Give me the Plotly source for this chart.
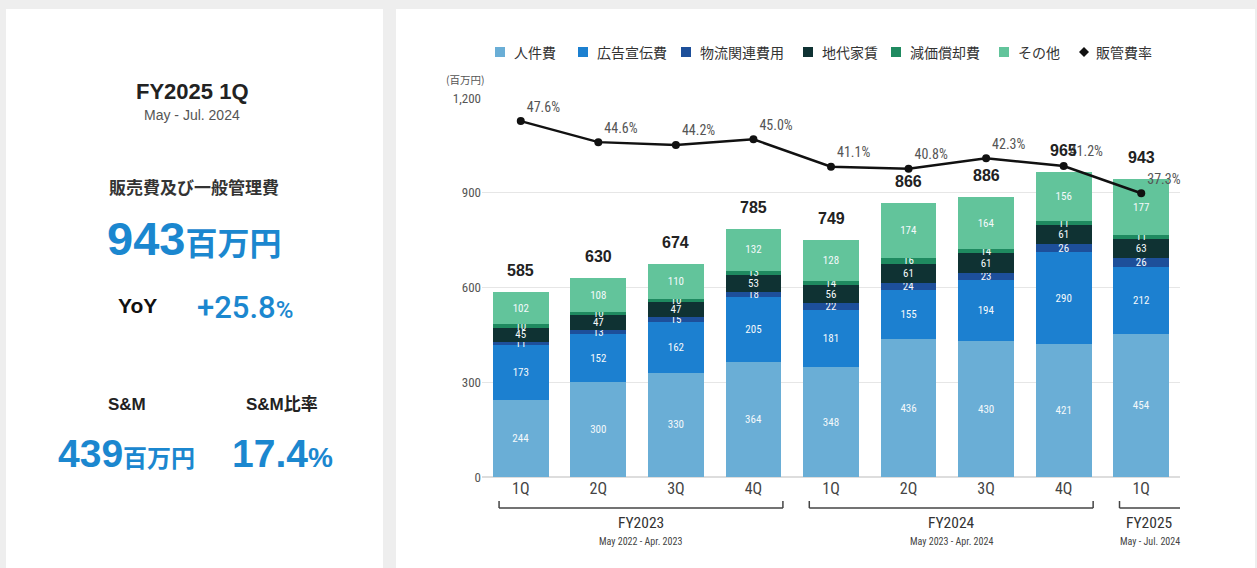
import plotly.graph_objects as go

# ---- data (百万円) ----
quarters = ["1Q", "2Q", "3Q", "4Q", "1Q", "2Q", "3Q", "4Q", "1Q"]
personnel = [244, 300, 330, 364, 348, 436, 430, 421, 454]        # 人件費
advertising = [173, 152, 162, 205, 181, 155, 194, 290, 212]      # 広告宣伝費
logistics = [11, 13, 15, 18, 22, 24, 23, 26, 26]                 # 物流関連費用
rent = [45, 47, 47, 53, 56, 61, 61, 61, 63]                      # 地代家賃
depreciation = [10, 10, 10, 13, 14, 16, 14, 11, 11]              # 減価償却費
other = [102, 108, 110, 132, 128, 174, 164, 156, 177]            # その他
totals = [585, 630, 674, 785, 749, 866, 886, 965, 943]
sga_ratio = [47.6, 44.6, 44.2, 45.0, 41.1, 40.8, 42.3, 41.2, 37.3]  # 販管費率 (%)

fiscal_years = ["FY2023", "FY2024", "FY2025"]
fy_periods = ["May 2022 - Apr. 2023", "May 2023 - Apr. 2024", "May - Jul. 2024"]
fy_first_q = [0, 4, 8]
fy_last_q = [3, 7, 8]

series_names = ["人件費", "広告宣伝費", "物流関連費用", "地代家賃", "減価償却費", "その他"]
series_values = [personnel, advertising, logistics, rent, depreciation, other]
series_colors = ["#6aaed6", "#1c80d0", "#1d4f9a", "#0f3233", "#1f8a60", "#62c49b"]
ratio_name = "販管費率"

# ---- geometry helpers ----
W_FIG, H_FIG = 1257, 568
L, R, T, B = 482, 77, 98, 91
PW = W_FIG - L - R
PH = H_FIG - T - B
N = len(quarters)


def px_x(px):
    return (px - L) / PW


def px_y(py):
    return (H_FIG - B - py) / PH


def cat_x(pos):
    return (pos + 0.5) / N


CONDENSED = "Liberation Sans Narrow, Roboto Condensed, Arial Narrow, DejaVu Sans Condensed, Roboto, sans-serif"
JP = "Noto Sans CJK JP, sans-serif"
SANS = "Liberation Sans, Arial, sans-serif"
BLUE = "#1b87cf"

x_idx = list(range(N))
fig = go.Figure()

for name, vals, col in zip(series_names, series_values, series_colors):
    fig.add_trace(go.Bar(
        x=x_idx, y=vals, name=name, marker=dict(color=col, line=dict(width=0)),
        text=[str(v) for v in vals], textposition="inside", insidetextanchor="middle",
        textangle=0, textfont=dict(family=CONDENSED, size=11, color="#f4f9fb"),
        width=0.72, showlegend=False,
    ))

fig.add_trace(go.Scatter(
    x=x_idx, y=sga_ratio, yaxis="y2", mode="lines+markers+text", name=ratio_name,
    line=dict(color="#111111", width=2.5),
    marker=dict(color="#111111", size=8),
    text=[f"{v:.1f}%" for v in sga_ratio], textposition="top right",
    textfont=dict(family=CONDENSED, size=14, color="#555555"),
    showlegend=False, cliponaxis=False,
))

annotations = []
shapes = []

# totals above bars
for i, t in enumerate(totals):
    annotations.append(dict(
        x=i, y=t, xref="x", yref="y", text=str(t), showarrow=False,
        yanchor="bottom", yshift=11,
        font=dict(family=SANS, size=16, color="#222222", weight="bold"),
    ))

# unit label
annotations.append(dict(
    x=px_x(465), y=px_y(79), xref="paper", yref="paper", text="(百万円)",
    showarrow=False, xanchor="center", yanchor="middle",
    font=dict(family=JP, size=10.5, color="#555555"),
))

# background cards
shapes.append(dict(type="rect", xref="paper", yref="paper", layer="below",
                   x0=px_x(6), x1=px_x(383), y0=px_y(575), y1=px_y(9),
                   fillcolor="white", line=dict(width=0)))
shapes.append(dict(type="rect", xref="paper", yref="paper", layer="below",
                   x0=px_x(396), x1=px_x(1255), y0=px_y(575), y1=px_y(9),
                   fillcolor="white", line=dict(width=0)))

# legend row along the top of the chart card
legend_px = [500, 583, 686, 808, 896, 1004]
LEG_Y = 52
for name, col, lx in zip(series_names, series_colors, legend_px):
    shapes.append(dict(type="rect", xref="paper", yref="paper",
                       x0=px_x(lx - 5), x1=px_x(lx + 5), y0=px_y(LEG_Y + 5), y1=px_y(LEG_Y - 5),
                       fillcolor=col, line=dict(width=0)))
    annotations.append(dict(x=px_x(lx + 12), y=px_y(LEG_Y), xref="paper", yref="paper",
                            text=name, showarrow=False, xanchor="left", yanchor="middle",
                            font=dict(family=JP, size=14, color="#333333")))
dx = 1084
shapes.append(dict(type="path", xref="paper", yref="paper",
                   path=(f"M {px_x(dx - 5)},{px_y(LEG_Y)} L {px_x(dx)},{px_y(LEG_Y - 5)} "
                         f"L {px_x(dx + 5)},{px_y(LEG_Y)} L {px_x(dx)},{px_y(LEG_Y + 5)} Z"),
                   fillcolor="#111111", line=dict(width=0)))
annotations.append(dict(x=px_x(dx + 10), y=px_y(LEG_Y), xref="paper", yref="paper",
                        text=ratio_name, showarrow=False, xanchor="left", yanchor="middle",
                        font=dict(family=JP, size=14, color="#333333")))

# fiscal-year brackets under the quarter labels
br_y = px_y(508)
br_top = px_y(501)
for fy, per, a, b in zip(fiscal_years, fy_periods, fy_first_q, fy_last_q):
    x0 = cat_x(a - 0.28)
    open_end = b == N - 1 and a == b
    x1 = cat_x(b + 0.5) if open_end else cat_x(b + 0.38)
    shapes.append(dict(type="line", xref="paper", yref="paper", x0=x0, x1=x1, y0=br_y, y1=br_y,
                       line=dict(color="#444444", width=1.5)))
    shapes.append(dict(type="line", xref="paper", yref="paper", x0=x0, x1=x0, y0=br_y, y1=br_top,
                       line=dict(color="#444444", width=1.5)))
    if not open_end:
        shapes.append(dict(type="line", xref="paper", yref="paper", x0=x1, x1=x1, y0=br_y, y1=br_top,
                           line=dict(color="#444444", width=1.5)))
    xm = (x0 + x1) / 2
    annotations.append(dict(x=xm, y=px_y(523), xref="paper", yref="paper", text=fy,
                            showarrow=False, xanchor="center", yanchor="middle",
                            font=dict(family=CONDENSED, size=15.5, color="#333333")))
    annotations.append(dict(x=xm, y=px_y(541), xref="paper", yref="paper", text=per,
                            showarrow=False, xanchor="center", yanchor="middle",
                            font=dict(family=CONDENSED, size=10, color="#444444")))


# left summary card
def card_text(px, py, text, size, color, family=SANS, weight="bold"):
    annotations.append(dict(x=px_x(px), y=px_y(py), xref="paper", yref="paper", text=text,
                            showarrow=False, xanchor="center", yanchor="middle",
                            font=dict(family=family, size=size, color=color, weight=weight)))


card_text(192, 91, "FY2025 1Q", 22, "#222222")
card_text(192, 115, "May - Jul. 2024", 14, "#555555", weight="normal")
card_text(194, 186, "販売費及び一般管理費", 17, "#333333", family=JP)
card_text(194, 238, "943<span style='font-size:32px'>百万円</span>", 47, BLUE,
          family="Liberation Sans, Noto Sans CJK JP")
card_text(137, 305, "YoY", 21, "#111111")
card_text(245, 307, "+25.8<span style='font-size:24px'>%</span>", 31, BLUE,
          family="Roboto, Liberation Sans", weight=500)
card_text(127, 404, "S&amp;M", 17, "#222222", family="Liberation Sans, Noto Sans CJK JP")
card_text(282, 404, "S&amp;M比率", 17, "#222222", family="Liberation Sans, Noto Sans CJK JP")
card_text(126, 453, "439<span style='font-size:24px'>百万円</span>", 39, BLUE,
          family="Liberation Sans, Noto Sans CJK JP")
card_text(282, 453, "17.4<span style='font-size:28px'>%</span>", 39, BLUE)

fig.update_layout(
    width=W_FIG, height=H_FIG,
    margin=dict(l=L, r=R, t=T, b=B, autoexpand=False),
    paper_bgcolor="#eeeeee", plot_bgcolor="rgba(0,0,0,0)",
    barmode="stack", bargap=0.28,
    showlegend=False,
    xaxis=dict(range=[-0.5, N - 0.5], tickvals=x_idx, ticktext=quarters,
               tickfont=dict(family=CONDENSED, size=16, color="#444444"),
               showgrid=False, zeroline=False, showline=False, ticks=""),
    yaxis=dict(range=[0, 1200], tickvals=[0, 300, 600, 900, 1200],
               ticktext=["0", "300", "600", "900", "1,200"],
               tickfont=dict(family=CONDENSED, size=13, color="#555555"),
               gridcolor="#e6e6e6", gridwidth=1, zeroline=True, zerolinecolor="#dddddd",
               showline=False, ticks=""),
    yaxis2=dict(range=[-3.2, 50.9], overlaying="y", visible=False),
    annotations=annotations, shapes=shapes,
    uniformtext=dict(mode="show", minsize=11),
)

fig.write_html("out.html")
